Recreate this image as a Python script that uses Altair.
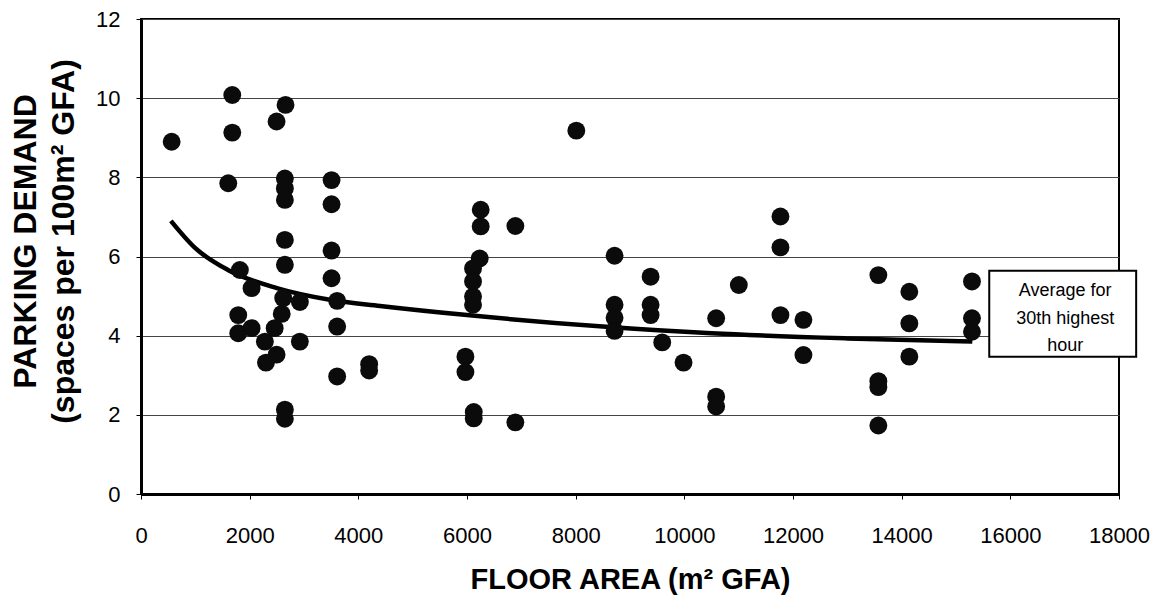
import altair as alt
import pandas as pd

# ---- data ----
area = [564, 1680, 1680, 1606, 2660, 2495, 2648, 2648, 2648, 3507, 3507, 2648, 2648,
        3507, 3507, 3610, 3610, 3610, 4199, 4199, 1820, 2035, 1790, 1790, 2035, 2617,
        2924, 2590, 2460, 2280, 2495, 2300, 2924, 2648, 2648,
        8012, 6252, 6252, 6890, 6234, 6111, 6111, 6111, 6111, 5971, 5971, 6124, 6124, 6890,
        8716, 8716, 8716, 8716, 9379, 9379, 9379, 9593, 9985, 10586, 10586, 10586, 11003,
        11769, 11769, 11769, 12192, 12192,
        13571, 13571, 13571, 13571, 14141, 14141, 14141, 15294, 15294, 15294]
demand = [8.90, 10.08, 9.13, 7.85, 9.83, 9.41, 7.97, 7.72, 7.43, 7.93, 7.32, 6.42, 5.79,
          6.15, 5.45, 4.88, 4.23, 2.97, 3.28, 3.12, 5.66, 5.20, 4.52, 4.06, 4.19, 4.95,
          4.85, 4.55, 4.19, 3.85, 3.52, 3.32, 3.85, 2.13, 1.90,
          9.18, 7.18, 6.76, 6.77, 5.95, 5.70, 5.37, 4.99, 4.78, 3.47, 3.08, 2.07, 1.91, 1.81,
          6.02, 4.78, 4.45, 4.12, 5.49, 4.78, 4.52, 3.83, 3.32, 4.44, 2.46, 2.21, 5.28,
          7.01, 6.23, 4.52, 4.40, 3.51,
          5.53, 2.85, 2.70, 1.73, 5.11, 4.31, 3.47, 5.37, 4.44, 4.10]

curve_area = [550, 1000, 1600, 2500, 3500, 4400, 6000, 8500, 10500, 13000, 15300]
curve_demand = [6.90, 6.21, 5.66, 5.20, 4.90, 4.75, 4.52, 4.23, 4.06, 3.93, 3.85]

x_ticks = [0, 2000, 4000, 6000, 8000, 10000, 12000, 14000, 16000, 18000]
y_ticks = [0, 2, 4, 6, 8, 10, 12]

note_lines = ["Average for", "30th highest", "hour"]
note_box_area = [15612, 18316]
note_box_demand = [3.47, 5.64]
note_text_area = 17010
note_text_demand = 4.99

FONT = "Liberation Sans, Arial, sans-serif"

xscale = alt.Scale(domain=[0, 18000], nice=False, zero=True)
yscale = alt.Scale(domain=[0, 12], nice=False, zero=True)

xaxis = alt.Axis(
    values=x_ticks, format="d", grid=False,
    domainColor="black", domainWidth=3,
    tickColor="black", tickSize=5, tickWidth=1,
    labelFont=FONT, labelFontSize=22, labelColor="black", labelPadding=26,
    labelFlush=False,
    title="FLOOR AREA (m² GFA)",
    titleFont=FONT, titleFontSize=29, titleFontWeight="bold", titleColor="black",
    titleX=489, titleY=94, titleBaseline="alphabetic", titleAlign="center",
)
yaxis = alt.Axis(
    values=y_ticks, format="d", grid=True,
    gridColor="#444444", gridWidth=1.2,
    domainColor="black", domainWidth=3,
    tickColor="black", tickSize=5, tickWidth=1,
    labelFont=FONT, labelFontSize=22, labelColor="black", labelPadding=16,
    title=["PARKING DEMAND", "(spaces per 100m² GFA)"],
    titleFont=FONT, titleFontSize=32, titleFontWeight="bold", titleColor="black",
    titleX=-106, titleY=222, titleAngle=270, titleBaseline="alphabetic",
    titleAlign="center", titleLineHeight=38,
)

X = alt.X("area:Q", scale=xscale, axis=xaxis)
Y = alt.Y("demand:Q", scale=yscale, axis=yaxis)

pts = pd.DataFrame({"area": area, "demand": demand})
curve = pd.DataFrame({"area": curve_area, "demand": curve_demand})
box = pd.DataFrame({"area": [note_box_area[0]], "area2": [note_box_area[1]],
                    "demand": [note_box_demand[0]], "demand2": [note_box_demand[1]]})
note = pd.DataFrame({"area": [note_text_area], "demand": [note_text_demand],
                     "label": ["\n".join(note_lines)]})

line_layer = alt.Chart(curve).mark_line(
    color="black", strokeWidth=4.5, interpolate="monotone"
).encode(x=X, y=Y)

point_layer = alt.Chart(pts).mark_circle(
    size=320, color="#0b0b0b", opacity=1
).encode(x=X, y=Y)

box_layer = alt.Chart(box).mark_rect(
    fill="white", stroke="black", strokeWidth=2
).encode(x=X, x2="area2:Q", y=Y, y2="demand2:Q")

text_layer = alt.Chart(note).mark_text(
    font=FONT, fontSize=18, color="black", align="center",
    baseline="alphabetic", lineBreak="\n", lineHeight=27.5
).encode(x=X, y=Y, text="label:N")

chart = alt.layer(line_layer, point_layer, box_layer, text_layer).properties(
    width=978, height=475,
    autosize=alt.AutoSizeParams(type="none"),
    padding={"left": 133, "top": 11, "right": 34, "bottom": 104},
    background="white",
).configure_view(stroke="black", strokeWidth=2)

chart.save("out.html", embed_options={"renderer": "svg", "actions": False})
